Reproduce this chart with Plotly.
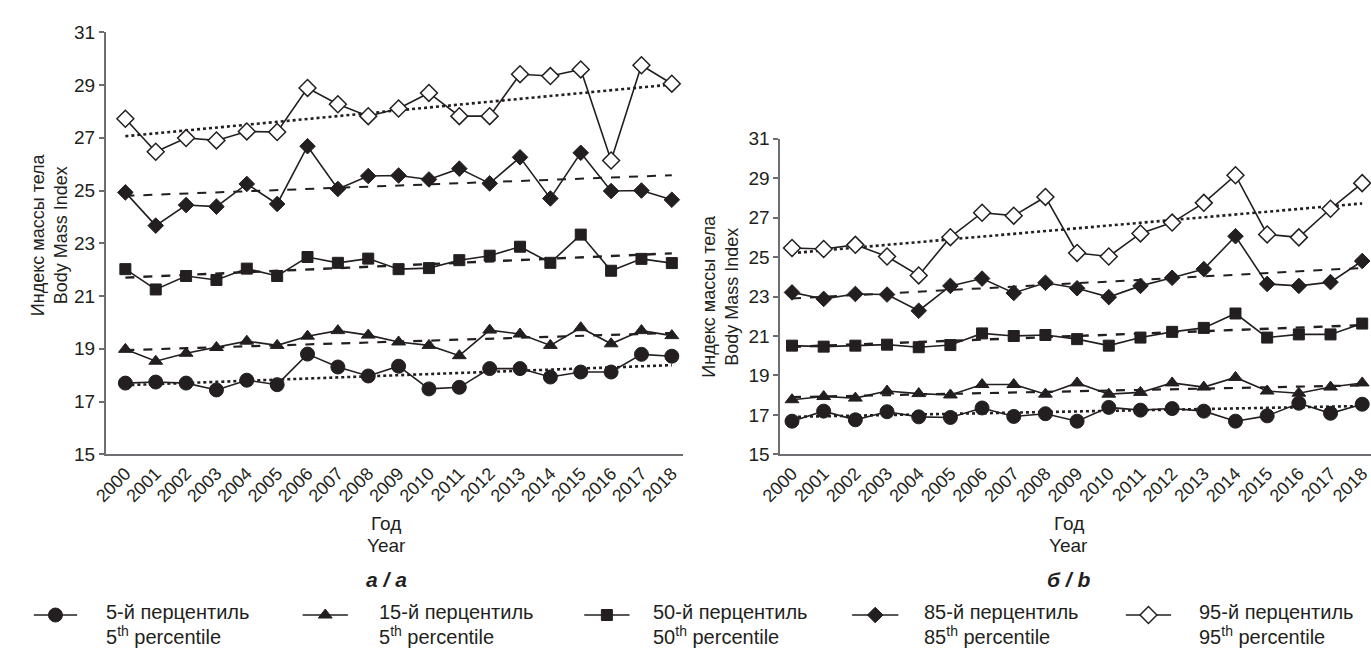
import plotly.graph_objects as go

W, H = 1371, 657
years = [str(y) for y in range(2000, 2019)]
xi = list(range(len(years)))

# Panel a
p5_a = [17.70, 17.74, 17.70, 17.44, 17.81, 17.64, 18.80, 18.31, 17.97, 18.34, 17.48, 17.54, 18.25, 18.25, 17.93, 18.12, 18.12, 18.79, 18.72]
p15_a = [18.98, 18.53, 18.83, 19.05, 19.29, 19.13, 19.48, 19.69, 19.52, 19.26, 19.13, 18.74, 19.71, 19.56, 19.13, 19.80, 19.19, 19.69, 19.50]
p50_a = [22.02, 21.25, 21.76, 21.61, 22.04, 21.76, 22.48, 22.26, 22.42, 22.02, 22.06, 22.36, 22.53, 22.87, 22.26, 23.33, 21.96, 22.41, 22.25]
p85_a = [24.93, 23.67, 24.45, 24.39, 25.25, 24.49, 26.68, 25.06, 25.55, 25.57, 25.42, 25.83, 25.27, 26.26, 24.70, 26.43, 24.98, 25.00, 24.65]
p95_a = [27.72, 26.47, 26.99, 26.90, 27.24, 27.22, 28.89, 28.27, 27.82, 28.11, 28.70, 27.82, 27.82, 29.41, 29.34, 29.59, 26.14, 29.75, 29.05]
# trend line end values (2000, 2018), panel a
trend_p5_a = [17.62, 18.38]
trend_p15_a = [18.95, 19.60]
trend_p50_a = [21.70, 22.62]
trend_p85_a = [24.80, 25.58]
trend_p95_a = [27.06, 29.02]

# Panel b
p5_b = [16.68, 17.19, 16.75, 17.16, 16.90, 16.87, 17.35, 16.92, 17.06, 16.68, 17.38, 17.24, 17.32, 17.19, 16.68, 16.95, 17.59, 17.08, 17.54]
p15_b = [17.77, 17.93, 17.85, 18.21, 18.08, 18.01, 18.54, 18.54, 18.05, 18.62, 18.05, 18.14, 18.62, 18.41, 18.90, 18.21, 18.10, 18.41, 18.62]
p50_b = [20.51, 20.46, 20.51, 20.56, 20.43, 20.54, 21.13, 21.00, 21.05, 20.84, 20.51, 20.92, 21.21, 21.41, 22.14, 20.92, 21.08, 21.08, 21.63]
p85_b = [23.21, 22.88, 23.13, 23.10, 22.28, 23.54, 23.91, 23.18, 23.70, 23.42, 22.97, 23.54, 23.95, 24.39, 26.06, 23.64, 23.54, 23.73, 24.80]
p95_b = [25.46, 25.41, 25.62, 25.03, 24.07, 26.01, 27.25, 27.10, 28.05, 25.21, 25.03, 26.20, 26.75, 27.75, 29.15, 26.15, 26.00, 27.45, 28.75]
trend_p5_b = [16.90, 17.45]
trend_p15_b = [17.90, 18.50]
trend_p50_b = [20.45, 21.55]
trend_p85_b = [22.90, 24.45]
trend_p95_b = [25.20, 27.72]

y_ticks = [15, 17, 19, 21, 23, 25, 27, 29, 31]

legend_ru = ["5-й перцентиль", "15-й перцентиль", "50-й перцентиль", "85-й перцентиль", "95-й перцентиль"]
legend_en = ["5<sup>th</sup> percentile", "5<sup>th</sup> percentile", "50<sup>th</sup> percentile",
             "85<sup>th</sup> percentile", "95<sup>th</sup> percentile"]

INK = "#231f20"
AXC = "#6d6e71"
FONT = "Liberation Sans, Arial, sans-serif"

def px(x):
    return x / W

def py(y):
    return 1 - y / H

styles = [
    dict(symbol="circle", size=14, color=INK, line=dict(color=INK, width=1)),
    dict(symbol="triangle-up", size=12, color=INK, line=dict(color=INK, width=1)),
    dict(symbol="square", size=11, color=INK, line=dict(color=INK, width=1)),
    dict(symbol="diamond", size=12, color=INK, line=dict(color=INK, width=1)),
    dict(symbol="diamond", size=13, color="white", line=dict(color=INK, width=1.5)),
]
trend_dash = ["dot", "dash", "dash", "dash", "dot"]
trend_w = [2.6, 2.2, 2.4, 2.0, 2.6]

fig = go.Figure()

panels = [
    ("x", "y", [p5_a, p15_a, p50_a, p85_a, p95_a], [trend_p5_a, trend_p15_a, trend_p50_a, trend_p85_a, trend_p95_a]),
    ("x2", "y2", [p5_b, p15_b, p50_b, p85_b, p95_b], [trend_p5_b, trend_p15_b, trend_p50_b, trend_p85_b, trend_p95_b]),
]
for xa, ya, series, trends in panels:
    for i, (s, t) in enumerate(zip(series, trends)):
        fig.add_trace(go.Scatter(x=[xi[0], xi[-1]], y=t, mode="lines", xaxis=xa, yaxis=ya,
                                 line=dict(color=INK, width=trend_w[i], dash=trend_dash[i]),
                                 showlegend=False, hoverinfo="skip", cliponaxis=False))
    for i, s in enumerate(series):
        fig.add_trace(go.Scatter(x=xi, y=s, mode="lines+markers", xaxis=xa, yaxis=ya,
                                 line=dict(color=INK, width=1.6), marker=styles[i],
                                 showlegend=False, cliponaxis=False))

# geometry (pixels)
L_AX, L_R = 86, 672
L_X0, L_STEP = 106, 30.83
R_AX, R_R = 771, 1371
R_X0, R_STEP = 783, 32.17
L_TOP, BOT = 23, 459
R_TOP = 133

axis_common = dict(showgrid=False, zeroline=False, showline=True, linecolor=AXC, linewidth=1.5)
xt = dict(tickvals=xi, ticktext=years, tickangle=-45, ticks="", tickfont=dict(size=18),
          ticklabeloverflow="allow")
yt = dict(range=[15, 31], tickvals=y_ticks, ticks="outside", ticklen=5, tickcolor=AXC, tickwidth=1.5,
          tickfont=dict(size=19))
fig.update_layout(
    width=W, height=H, margin=dict(l=0, r=0, t=0, b=0),
    paper_bgcolor="white", plot_bgcolor="rgba(0,0,0,0)",
    font=dict(family=FONT, color=INK, size=19),
    xaxis=dict(domain=[px(L_AX), px(L_R)], range=[-(L_X0 - L_AX) / L_STEP, 18 + (L_R - L_X0 - 18 * L_STEP) / L_STEP],
               anchor="y", **xt, **axis_common),
    yaxis=dict(domain=[py(BOT), py(L_TOP)], anchor="x", **yt, **axis_common),
    xaxis2=dict(domain=[px(R_AX), px(R_R)], range=[-(R_X0 - R_AX) / R_STEP, 18 + (R_R - R_X0 - 18 * R_STEP) / R_STEP],
                anchor="y2", **xt, **axis_common),
    yaxis2=dict(domain=[py(BOT), py(R_TOP)], anchor="x2", **yt, **axis_common),
)

ann = []
# y titles
for xc, yc in [(29, 232), (710, 296)]:
    ann.append(dict(x=px(xc), y=py(yc), xref="paper", yref="paper", text="Индекс массы тела<br>Body Mass Index",
                    textangle=-90, showarrow=False, font=dict(size=18), xanchor="center", yanchor="middle"))
# x titles & panel labels
for xc, lab in [((L_AX + L_R) / 2 - 8, "<b><i>а / a</i></b>"), ((R_AX + R_R) / 2 - 7, "<b><i>б / b</i></b>")]:
    ann.append(dict(x=px(xc), y=py(530), xref="paper", yref="paper", text="Год", showarrow=False,
                    font=dict(size=19), xanchor="center", yanchor="middle"))
    ann.append(dict(x=px(xc), y=py(553), xref="paper", yref="paper", text="Year", showarrow=False,
                    font=dict(size=19), xanchor="center", yanchor="middle"))
    ann.append(dict(x=px(xc), y=py(588), xref="paper", yref="paper", text=lab, showarrow=False,
                    font=dict(size=21), xanchor="center", yanchor="middle"))

# custom legend
leg_sym = [(13, 57), (286, 332), (572, 618), (844, 891), (1122, 1168)]
leg_txt = [84, 362, 640, 915, 1194]
LEG_Y = 625
for i in range(5):
    a, b = leg_sym[i]
    fig.add_trace(go.Scatter(x=[px(a), px(b)], y=[py(LEG_Y), py(LEG_Y)], mode="lines", xaxis="x3", yaxis="y3",
                             line=dict(color=INK, width=1.6), showlegend=False, hoverinfo="skip"))
    fig.add_trace(go.Scatter(x=[px((a + b) / 2)], y=[py(LEG_Y)], mode="markers", xaxis="x3", yaxis="y3",
                             marker=styles[i], showlegend=False, hoverinfo="skip"))
    ann.append(dict(x=px(leg_txt[i]), y=py(622), xref="paper", yref="paper",
                    text=legend_ru[i], showarrow=False, align="left",
                    font=dict(size=20), xanchor="left", yanchor="middle"))
    ann.append(dict(x=px(leg_txt[i]), y=py(646), xref="paper", yref="paper",
                    text=legend_en[i], showarrow=False, align="left",
                    font=dict(size=20), xanchor="left", yanchor="middle"))

fig.update_layout(
    xaxis3=dict(domain=[0, 1], range=[0, 1], visible=False, anchor="y3"),
    yaxis3=dict(domain=[0, 1], range=[0, 1], visible=False, anchor="x3"),
    annotations=ann,
)

fig.write_html("out.html", config={"displayModeBar": False},
               post_script="document.body.style.margin='0';")
